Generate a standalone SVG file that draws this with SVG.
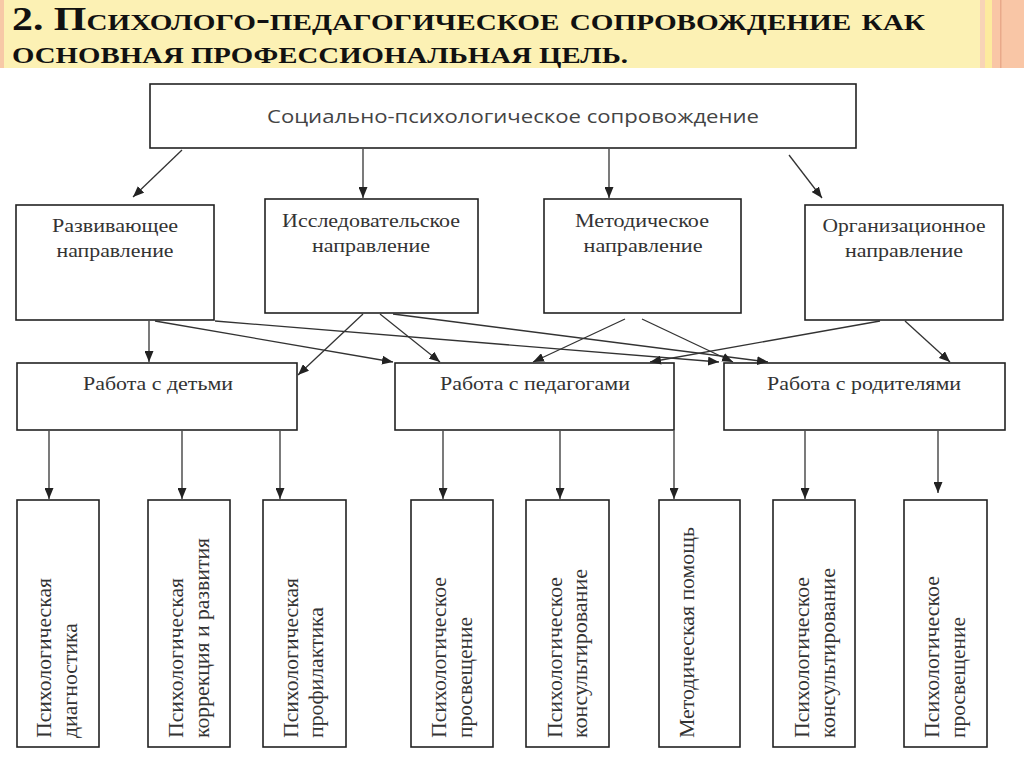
<svg xmlns="http://www.w3.org/2000/svg" width="1024" height="767" viewBox="0 0 1024 767">
<style>
.box{fill:#fff;stroke:#222;stroke-width:1.6}
.t{font-family:"Liberation Serif","Times New Roman",serif;font-size:19px;fill:#333;text-anchor:middle}
.v{font-family:"Liberation Serif","Times New Roman",serif;font-size:20px;fill:#333}
.s{font-family:"Open Sans","Noto Sans",sans-serif;font-size:19px;fill:#444;text-anchor:middle}
.ttl{font-family:"Liberation Serif","Times New Roman",serif;font-weight:bold;font-size:33px;font-variant:small-caps;fill:#111}
.ttl2{font-family:"Liberation Serif","Times New Roman",serif;font-weight:bold;font-size:23.5px;text-transform:uppercase;fill:#111}
.c line{stroke:#333;stroke-width:1.3;marker-end:url(#ah)}
</style>
<defs>
<marker id="ah" markerUnits="userSpaceOnUse" markerWidth="11" markerHeight="9" refX="11" refY="4.5" orient="auto">
<path d="M0,0 L11,4.5 L0,9 z" fill="#222"/>
</marker>
</defs>
<rect width="1024" height="767" fill="#fff"/>
<g id="banner">
<rect x="0" y="0" width="1024" height="68" fill="#FCF1B4"/>
<rect x="0" y="0" width="4" height="68" fill="#F7C9A6"/>
<rect x="980" y="0" width="5" height="68" fill="#F8D4B6"/>
<rect x="985" y="0" width="7" height="68" fill="#FDEB9E"/>
<rect x="992" y="0" width="32" height="68" fill="#F9C6A6"/>
<rect x="1000" y="0" width="1.5" height="68" fill="#E9A98A"/>
<text class="ttl" x="12" y="30" textLength="913" lengthAdjust="spacingAndGlyphs">2. Психолого-педагогическое сопровождение как</text>
<text class="ttl2" x="12" y="63" textLength="616" lengthAdjust="spacingAndGlyphs">основная профессиональная цель.</text>
</g>
<g id="n-top">
<rect class="box" x="150" y="84" width="706" height="64"/>
<text class="s" x="513" y="123" textLength="492" lengthAdjust="spacingAndGlyphs">Социально-психологическое сопровождение</text>
</g>
<g id="n-razv">
<rect class="box" x="16" y="205" width="198" height="115"/>
<text class="t" x="115" y="232" textLength="126" lengthAdjust="spacingAndGlyphs">Развивающее</text>
<text class="t" x="115" y="257" textLength="117" lengthAdjust="spacingAndGlyphs">направление</text>
</g>
<g id="n-issl">
<rect class="box" x="265" y="199" width="213" height="114"/>
<text class="t" x="371" y="227" textLength="178" lengthAdjust="spacingAndGlyphs">Исследовательское</text>
<text class="t" x="371" y="252" textLength="118" lengthAdjust="spacingAndGlyphs">направление</text>
</g>
<g id="n-metod">
<rect class="box" x="544" y="199" width="197" height="114"/>
<text class="t" x="642" y="227" textLength="134" lengthAdjust="spacingAndGlyphs">Методическое</text>
<text class="t" x="643" y="252" textLength="119" lengthAdjust="spacingAndGlyphs">направление</text>
</g>
<g id="n-org">
<rect class="box" x="805" y="205" width="198" height="115"/>
<text class="t" x="904" y="232" textLength="163" lengthAdjust="spacingAndGlyphs">Организационное</text>
<text class="t" x="904" y="257" textLength="118" lengthAdjust="spacingAndGlyphs">направление</text>
</g>
<g id="n-deti">
<rect class="box" x="17" y="363" width="280" height="67"/>
<text class="t" x="158" y="390" textLength="150" lengthAdjust="spacingAndGlyphs">Работа с детьми</text>
</g>
<g id="n-ped">
<rect class="box" x="395" y="363" width="279" height="67"/>
<text class="t" x="535" y="390" textLength="190" lengthAdjust="spacingAndGlyphs">Работа с педагогами</text>
</g>
<g id="n-rod">
<rect class="box" x="724" y="363" width="281" height="67"/>
<text class="t" x="864" y="390" textLength="194" lengthAdjust="spacingAndGlyphs">Работа с родителями</text>
</g>
<g id="n-b1">
<rect class="box" x="17" y="500" width="82" height="247"/>
<text class="v" transform="translate(51,738) rotate(-90)" textLength="160" lengthAdjust="spacingAndGlyphs">Психологическая</text>
<text class="v" transform="translate(77,738) rotate(-90)" textLength="115" lengthAdjust="spacingAndGlyphs">диагностика</text>
</g>
<g id="n-b2">
<rect class="box" x="148" y="500" width="82" height="247"/>
<text class="v" transform="translate(183,738) rotate(-90)" textLength="160" lengthAdjust="spacingAndGlyphs">Психологическая</text>
<text class="v" transform="translate(209,738) rotate(-90)" textLength="200" lengthAdjust="spacingAndGlyphs">коррекция и развития</text>
</g>
<g id="n-b3">
<rect class="box" x="263" y="500" width="83" height="247"/>
<text class="v" transform="translate(298,738) rotate(-90)" textLength="160" lengthAdjust="spacingAndGlyphs">Психологическая</text>
<text class="v" transform="translate(323,738) rotate(-90)" textLength="131" lengthAdjust="spacingAndGlyphs">профилактика</text>
</g>
<g id="n-b4">
<rect class="box" x="411" y="500" width="82" height="247"/>
<text class="v" transform="translate(446,738) rotate(-90)" textLength="161" lengthAdjust="spacingAndGlyphs">Психологическое</text>
<text class="v" transform="translate(472,738) rotate(-90)" textLength="121" lengthAdjust="spacingAndGlyphs">просвещение</text>
</g>
<g id="n-b5">
<rect class="box" x="526" y="500" width="83" height="247"/>
<text class="v" transform="translate(562,738) rotate(-90)" textLength="161" lengthAdjust="spacingAndGlyphs">Психологическое</text>
<text class="v" transform="translate(587,738) rotate(-90)" textLength="169" lengthAdjust="spacingAndGlyphs">консультирование</text>
</g>
<g id="n-b6">
<rect class="box" x="659" y="500" width="81" height="247"/>
<text class="v" transform="translate(694,738) rotate(-90)" textLength="211" lengthAdjust="spacingAndGlyphs">Методическая помощь</text>
</g>
<g id="n-b7">
<rect class="box" x="773" y="500" width="82" height="247"/>
<text class="v" transform="translate(809,738) rotate(-90)" textLength="161" lengthAdjust="spacingAndGlyphs">Психологическое</text>
<text class="v" transform="translate(835,738) rotate(-90)" textLength="170" lengthAdjust="spacingAndGlyphs">консультирование</text>
</g>
<g id="n-b8">
<rect class="box" x="904" y="500" width="83" height="247"/>
<text class="v" transform="translate(939,738) rotate(-90)" textLength="162" lengthAdjust="spacingAndGlyphs">Психологическое</text>
<text class="v" transform="translate(965,738) rotate(-90)" textLength="121" lengthAdjust="spacingAndGlyphs">просвещение</text>
</g>
<g id="connectors" class="c">
<line x1="182" y1="150" x2="133" y2="197"/>
<line x1="363" y1="149" x2="363" y2="198"/>
<line x1="609" y1="149" x2="609" y2="198"/>
<line x1="789" y1="155" x2="822" y2="198"/>
<line x1="149" y1="321" x2="149" y2="362"/>
<line x1="155" y1="321" x2="393" y2="362"/>
<line x1="215" y1="321" x2="719" y2="362"/>
<line x1="363" y1="314" x2="298" y2="375"/>
<line x1="380" y1="314" x2="440" y2="362"/>
<line x1="393" y1="314" x2="768" y2="362"/>
<line x1="625" y1="319" x2="533" y2="362"/>
<line x1="642" y1="319" x2="733" y2="362"/>
<line x1="880" y1="321" x2="650" y2="362"/>
<line x1="905" y1="321" x2="950" y2="362"/>
<line x1="49" y1="431" x2="49" y2="499"/>
<line x1="182" y1="431" x2="182" y2="499"/>
<line x1="280" y1="431" x2="280" y2="499"/>
<line x1="443" y1="431" x2="443" y2="499"/>
<line x1="560" y1="431" x2="560" y2="499"/>
<line x1="674" y1="431" x2="674" y2="499"/>
<line x1="805" y1="431" x2="805" y2="499"/>
<line x1="938" y1="431" x2="938" y2="493"/>
</g>
</svg>
